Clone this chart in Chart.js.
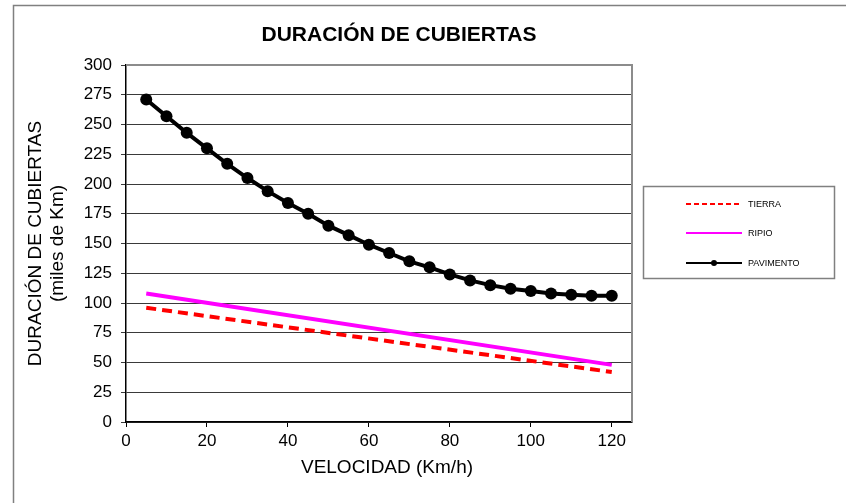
<!DOCTYPE html>
<html lang="es">
<head>
<meta charset="UTF-8">
<title>Duración de cubiertas</title>
<style>
    body { margin: 0; background: #ffffff; }
    canvas { display: block; }
</style>
</head>
<body>
<canvas id="cubiertasChart" width="846" height="503"></canvas>

<script src="https://cdn.jsdelivr.net/npm/chart.js"></script>
<script>
    // velocidad (km/h) y duración (miles de km)
    const velocidad = [5, 10, 15, 20, 25, 30, 35, 40, 45, 50, 55, 60, 65, 70, 75, 80, 85, 90, 95, 100, 105, 110, 115, 120];
    const pavimento = [271, 257, 243, 230, 217, 205, 194, 184, 175, 165, 157, 149, 142, 135, 130, 124, 119, 115, 112, 110, 108, 107, 106, 106];
    const velocidadRectas = [5, 120];
    const tierra = [96, 42];
    const ripio = [108, 48];
    const seriesNames = ['TIERRA', 'RIPIO', 'PAVIMENTO'];
    const xTicks = [0, 20, 40, 60, 80, 100, 120];

    const FONT = '"Liberation Sans", Arial, sans-serif';

    function toPoints(xs, ys) {
        return xs.map((x, i) => ({ x: x, y: ys[i] }));
    }

    // marco exterior, títulos, borde del área y leyenda
    const decoracion = {
        id: 'decoracion',
        beforeDatasetsDraw(chart) {
            const { ctx, chartArea: a } = chart;
            ctx.save();
            ctx.strokeStyle = '#8c8c8c';
            ctx.lineWidth = 2;
            ctx.beginPath();
            ctx.moveTo(a.left, a.top);
            ctx.lineTo(a.right, a.top);
            ctx.lineTo(a.right, a.bottom);
            ctx.stroke();
            ctx.restore();
        },
        afterDraw(chart) {
            const ctx = chart.ctx;
            ctx.save();
            // marco exterior
            ctx.strokeStyle = '#808080';
            ctx.lineWidth = 1.5;
            ctx.beginPath();
            ctx.moveTo(13.5, 503);
            ctx.lineTo(13.5, 5.5);
            ctx.lineTo(846, 5.5);
            ctx.stroke();

            // título
            ctx.fillStyle = '#000';
            ctx.font = 'bold 21px ' + FONT;
            ctx.textAlign = 'center';
            ctx.textBaseline = 'middle';
            ctx.fillText('DURACIÓN DE CUBIERTAS', 399, 35);

            // título eje x
            ctx.font = '19px ' + FONT;
            ctx.fillText('VELOCIDAD (Km/h)', 387, 468);

            // leyenda
            ctx.strokeStyle = '#808080';
            ctx.lineWidth = 1.5;
            ctx.strokeRect(643.5, 186.5, 191, 92);
            const rows = [204, 233, 263];
            ctx.font = '9px ' + FONT;
            ctx.textAlign = 'left';
            chart.data.datasets.forEach((ds, i) => {
                const y = rows[i];
                ctx.strokeStyle = ds.borderColor;
                ctx.lineWidth = 2;
                ctx.setLineDash(ds.borderDash ? [5, 3] : []);
                ctx.beginPath();
                ctx.moveTo(686, y);
                ctx.lineTo(742, y);
                ctx.stroke();
                ctx.setLineDash([]);
                if (ds.pointRadius > 0) {
                    ctx.fillStyle = ds.pointBackgroundColor;
                    ctx.beginPath();
                    ctx.arc(714, y, 3, 0, Math.PI * 2);
                    ctx.fill();
                }
                ctx.fillStyle = '#000';
                ctx.fillText(ds.label, 748, y + 1);
            });
            ctx.restore();
        }
    };

    new Chart(document.getElementById('cubiertasChart'), {
        type: 'scatter',
        data: {
            datasets: [
                {
                    label: seriesNames[0],
                    data: toPoints(velocidadRectas, tierra),
                    showLine: true,
                    borderColor: '#ff0000',
                    borderWidth: 4,
                    borderDash: [10, 6],
                    pointRadius: 0,
                    pointHoverRadius: 0
                },
                {
                    label: seriesNames[1],
                    data: toPoints(velocidadRectas, ripio),
                    showLine: true,
                    borderColor: '#ff00ff',
                    borderWidth: 4,
                    pointRadius: 0,
                    pointHoverRadius: 0
                },
                {
                    label: seriesNames[2],
                    data: toPoints(velocidad, pavimento),
                    showLine: true,
                    borderColor: '#000000',
                    borderWidth: 4,
                    pointRadius: 6,
                    pointBackgroundColor: '#000000',
                    pointBorderColor: '#000000',
                    pointBorderWidth: 0
                }
            ]
        },
        options: {
            responsive: false,
            animation: false,
            layout: { padding: { left: 13, top: 65, right: 214, bottom: 0 } },
            plugins: {
                legend: { display: false },
                tooltip: { enabled: false }
            },
            scales: {
                x: {
                    type: 'linear',
                    min: 0,
                    max: 125,
                    afterBuildTicks: (scale) => {
                        scale.ticks = xTicks.map(v => ({ value: v }));
                    },
                    afterFit: (scale) => { scale.height = 81; },
                    grid: { drawOnChartArea: false, color: '#000', tickLength: 5 },
                    border: { color: '#000', width: 1.5 },
                    ticks: { color: '#000', padding: 4, font: { family: FONT, size: 17 } }
                },
                y: {
                    min: 0,
                    max: 300,
                    afterFit: (scale) => { scale.width = 113; },
                    grid: { color: '#3a3a3a', tickLength: 5 },
                    border: { color: '#000', width: 1.5 },
                    ticks: { stepSize: 25, color: '#000', padding: 9, font: { family: FONT, size: 17 } },
                    title: {
                        display: true,
                        text: ['DURACIÓN DE CUBIERTAS', '(miles de Km)'],
                        color: '#000',
                        font: { family: FONT, size: 19, lineHeight: 1.15 },
                        padding: { top: 12, bottom: 0 }
                    }
                }
            }
        },
        plugins: [decoracion]
    });
</script>
</body>
</html>
